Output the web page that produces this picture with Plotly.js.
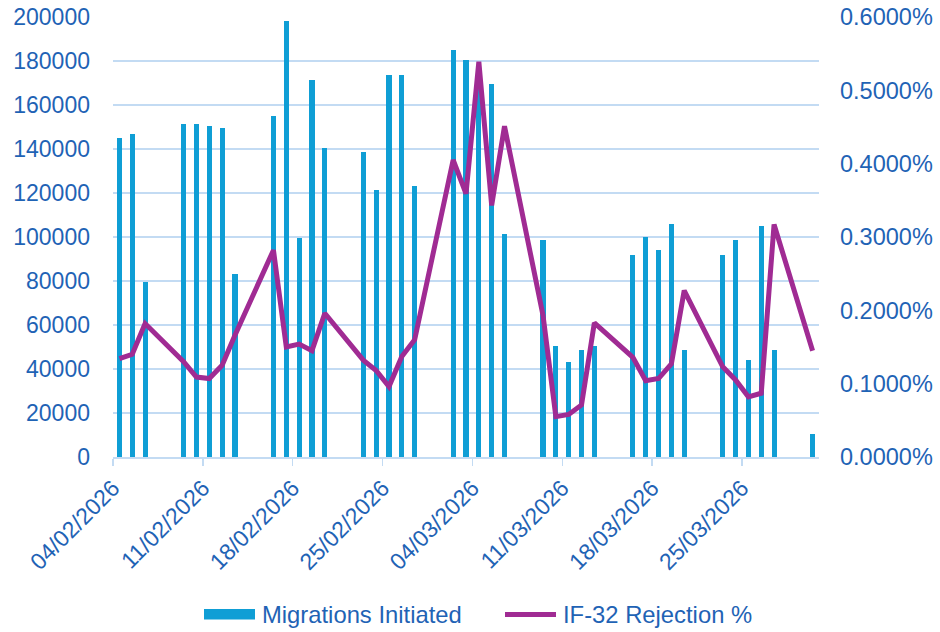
<!DOCTYPE html>
<html>
<head>
<meta charset="utf-8">
<script src="https://cdn.plot.ly/plotly-3.0.1.min.js"></script>
<style>
  html, body { margin: 0; padding: 0; background: #ffffff; }
  #chart { width: 940px; height: 632px; }
</style>
</head>
<body>
<div id="chart"></div>
<script>
// ---- Data ----
const dates = [
  '2026-02-04','2026-02-05','2026-02-06',
  '2026-02-09','2026-02-10','2026-02-11','2026-02-12','2026-02-13',
  '2026-02-16','2026-02-17','2026-02-18','2026-02-19','2026-02-20',
  '2026-02-23','2026-02-24','2026-02-25','2026-02-26','2026-02-27',
  '2026-03-02','2026-03-03','2026-03-04','2026-03-05','2026-03-06',
  '2026-03-09','2026-03-10','2026-03-11','2026-03-12','2026-03-13',
  '2026-03-16','2026-03-17','2026-03-18','2026-03-19','2026-03-20',
  '2026-03-23','2026-03-24','2026-03-25','2026-03-26','2026-03-27',
  '2026-03-30'
];

const migrationsInitiated = [
  145000, 146700, 79400,
  151200, 151200, 150300, 149400, 83000,
  154900, 198000, 99400, 171200, 140300,
  138500, 121200, 173800, 173800, 123000,
  184900, 180300, 178000, 169400, 101200,
  98500, 50300, 43000, 48500, 50300,
  92000, 100200, 93900, 105800, 48500,
  92000, 98500, 43900, 104900, 48500,
  10300
];

const rejectionPct = [
  0.00134, 0.00140, 0.00182,
  0.00130, 0.00109, 0.00107, 0.00125, 0.00166,
  0.00282, 0.00150, 0.00154, 0.00145, 0.00196,
  0.00132, 0.00118, 0.00096, 0.00137, 0.00160,
  0.00405, 0.00359, 0.00539, 0.00343, 0.00451,
  0.00193, 0.00055, 0.00058, 0.00071, 0.00183,
  0.00136, 0.00104, 0.00107, 0.00127, 0.00227,
  0.00123, 0.00105, 0.00082, 0.00087, 0.00317,
  0.00145
];

const tickLabels = ['04/02/2026','11/02/2026','18/02/2026','25/02/2026',
                    '04/03/2026','11/03/2026','18/03/2026','25/03/2026'];

const seriesNames = ['Migrations Initiated', 'IF-32 Rejection %'];

// ---- Styling ----
const BAR_COLOR = '#0F9ED5';
const LINE_COLOR = '#A02B93';
const TEXT_COLOR = '#1F63B5';
const GRID_COLOR = '#C3DBF3';
const FONT = 'Arial, "Liberation Sans", sans-serif';
const DAY = 86400000;

function pad(n) { return (n < 10 ? '0' : '') + n; }
function isoFromMs(ms) {
  const d = new Date(ms);
  return d.getUTCFullYear() + '-' + pad(d.getUTCMonth() + 1) + '-' + pad(d.getUTCDate()) +
         ' ' + pad(d.getUTCHours()) + ':' + pad(d.getUTCMinutes());
}
function msFromLabel(lbl) {
  const p = lbl.split('/');
  return Date.UTC(+p[2], +p[1] - 1, +p[0]);
}
// Excel date axis: tick marks sit at the left edge of each day slot
const tickVals = tickLabels.map(l => isoFromMs(msFromLabel(l) - DAY / 2));
const firstMs = Date.UTC(2026, 1, 4), lastMs = Date.UTC(2026, 2, 30);
const xRange = [isoFromMs(firstMs - DAY / 2), isoFromMs(lastMs + DAY / 2)];

const traces = [
  {
    type: 'bar',
    x: dates,
    y: migrationsInitiated,
    name: seriesNames[0],
    marker: { color: BAR_COLOR },
    width: 0.4 * DAY,
    yaxis: 'y',
    hoverinfo: 'x+y'
  },
  {
    type: 'scatter',
    mode: 'lines',
    x: dates,
    y: rejectionPct,
    name: seriesNames[1],
    line: { color: LINE_COLOR, width: 5, shape: 'linear' },
    yaxis: 'y2'
  }
];

// plot area in pixels (for the hand-drawn legend)
const L = 113, R = 819, T = 17, B = 457;
const W = R - L, H = B - T;
const px = x => (x - L) / W;
const py = y => (B - y) / H;

const layout = {
  width: 940,
  height: 632,
  margin: { l: L, r: 940 - R, t: T, b: 632 - B, pad: 0 },
  paper_bgcolor: '#ffffff',
  plot_bgcolor: '#ffffff',
  font: { family: FONT, size: 23, color: TEXT_COLOR },
  showlegend: false,
  bargap: 0,
  xaxis: {
    type: 'date',
    range: xRange,
    tickvals: tickVals,
    ticktext: tickLabels,
    tickangle: -45,
    ticks: 'outside',
    ticklen: 7,
    tickwidth: 1.5,
    tickcolor: GRID_COLOR,
    showline: true,
    linecolor: GRID_COLOR,
    linewidth: 1.5,
    showgrid: false,
    zeroline: false,
    tickfont: { family: FONT, size: 23, color: TEXT_COLOR }
  },
  yaxis: {
    range: [0, 200000],
    dtick: 20000,
    tick0: 0,
    tickformat: 'd',
    showgrid: true,
    gridcolor: GRID_COLOR,
    gridwidth: 1.5,
    zeroline: false,
    showline: false,
    ticks: '',
    ticklabelstandoff: 22,
    tickfont: { family: FONT, size: 23, color: TEXT_COLOR }
  },
  yaxis2: {
    overlaying: 'y',
    side: 'right',
    range: [0, 0.006],
    dtick: 0.001,
    tick0: 0,
    tickformat: '.4%',
    showgrid: false,
    zeroline: false,
    showline: false,
    ticks: '',
    ticklabelstandoff: 20,
    tickfont: { family: FONT, size: 23.5, color: TEXT_COLOR }
  },
  shapes: [
    { type: 'rect', xref: 'paper', yref: 'paper',
      x0: px(204), x1: px(255), y0: py(609), y1: py(619.5),
      fillcolor: BAR_COLOR, line: { width: 0 } },
    { type: 'line', xref: 'paper', yref: 'paper',
      x0: px(505), x1: px(556), y0: py(614.5), y1: py(614.5),
      line: { color: LINE_COLOR, width: 5 } }
  ],
  annotations: [
    { xref: 'paper', yref: 'paper', x: px(260), y: py(614), xanchor: 'left', yanchor: 'middle',
      text: seriesNames[0], showarrow: false, font: { family: FONT, size: 23.8, color: TEXT_COLOR } },
    { xref: 'paper', yref: 'paper', x: px(561), y: py(614), xanchor: 'left', yanchor: 'middle',
      text: seriesNames[1], showarrow: false, font: { family: FONT, size: 23.8, color: TEXT_COLOR } }
  ]
};

Plotly.newPlot('chart', traces, layout, { displayModeBar: false, staticPlot: true });
</script>
</body>
</html>
